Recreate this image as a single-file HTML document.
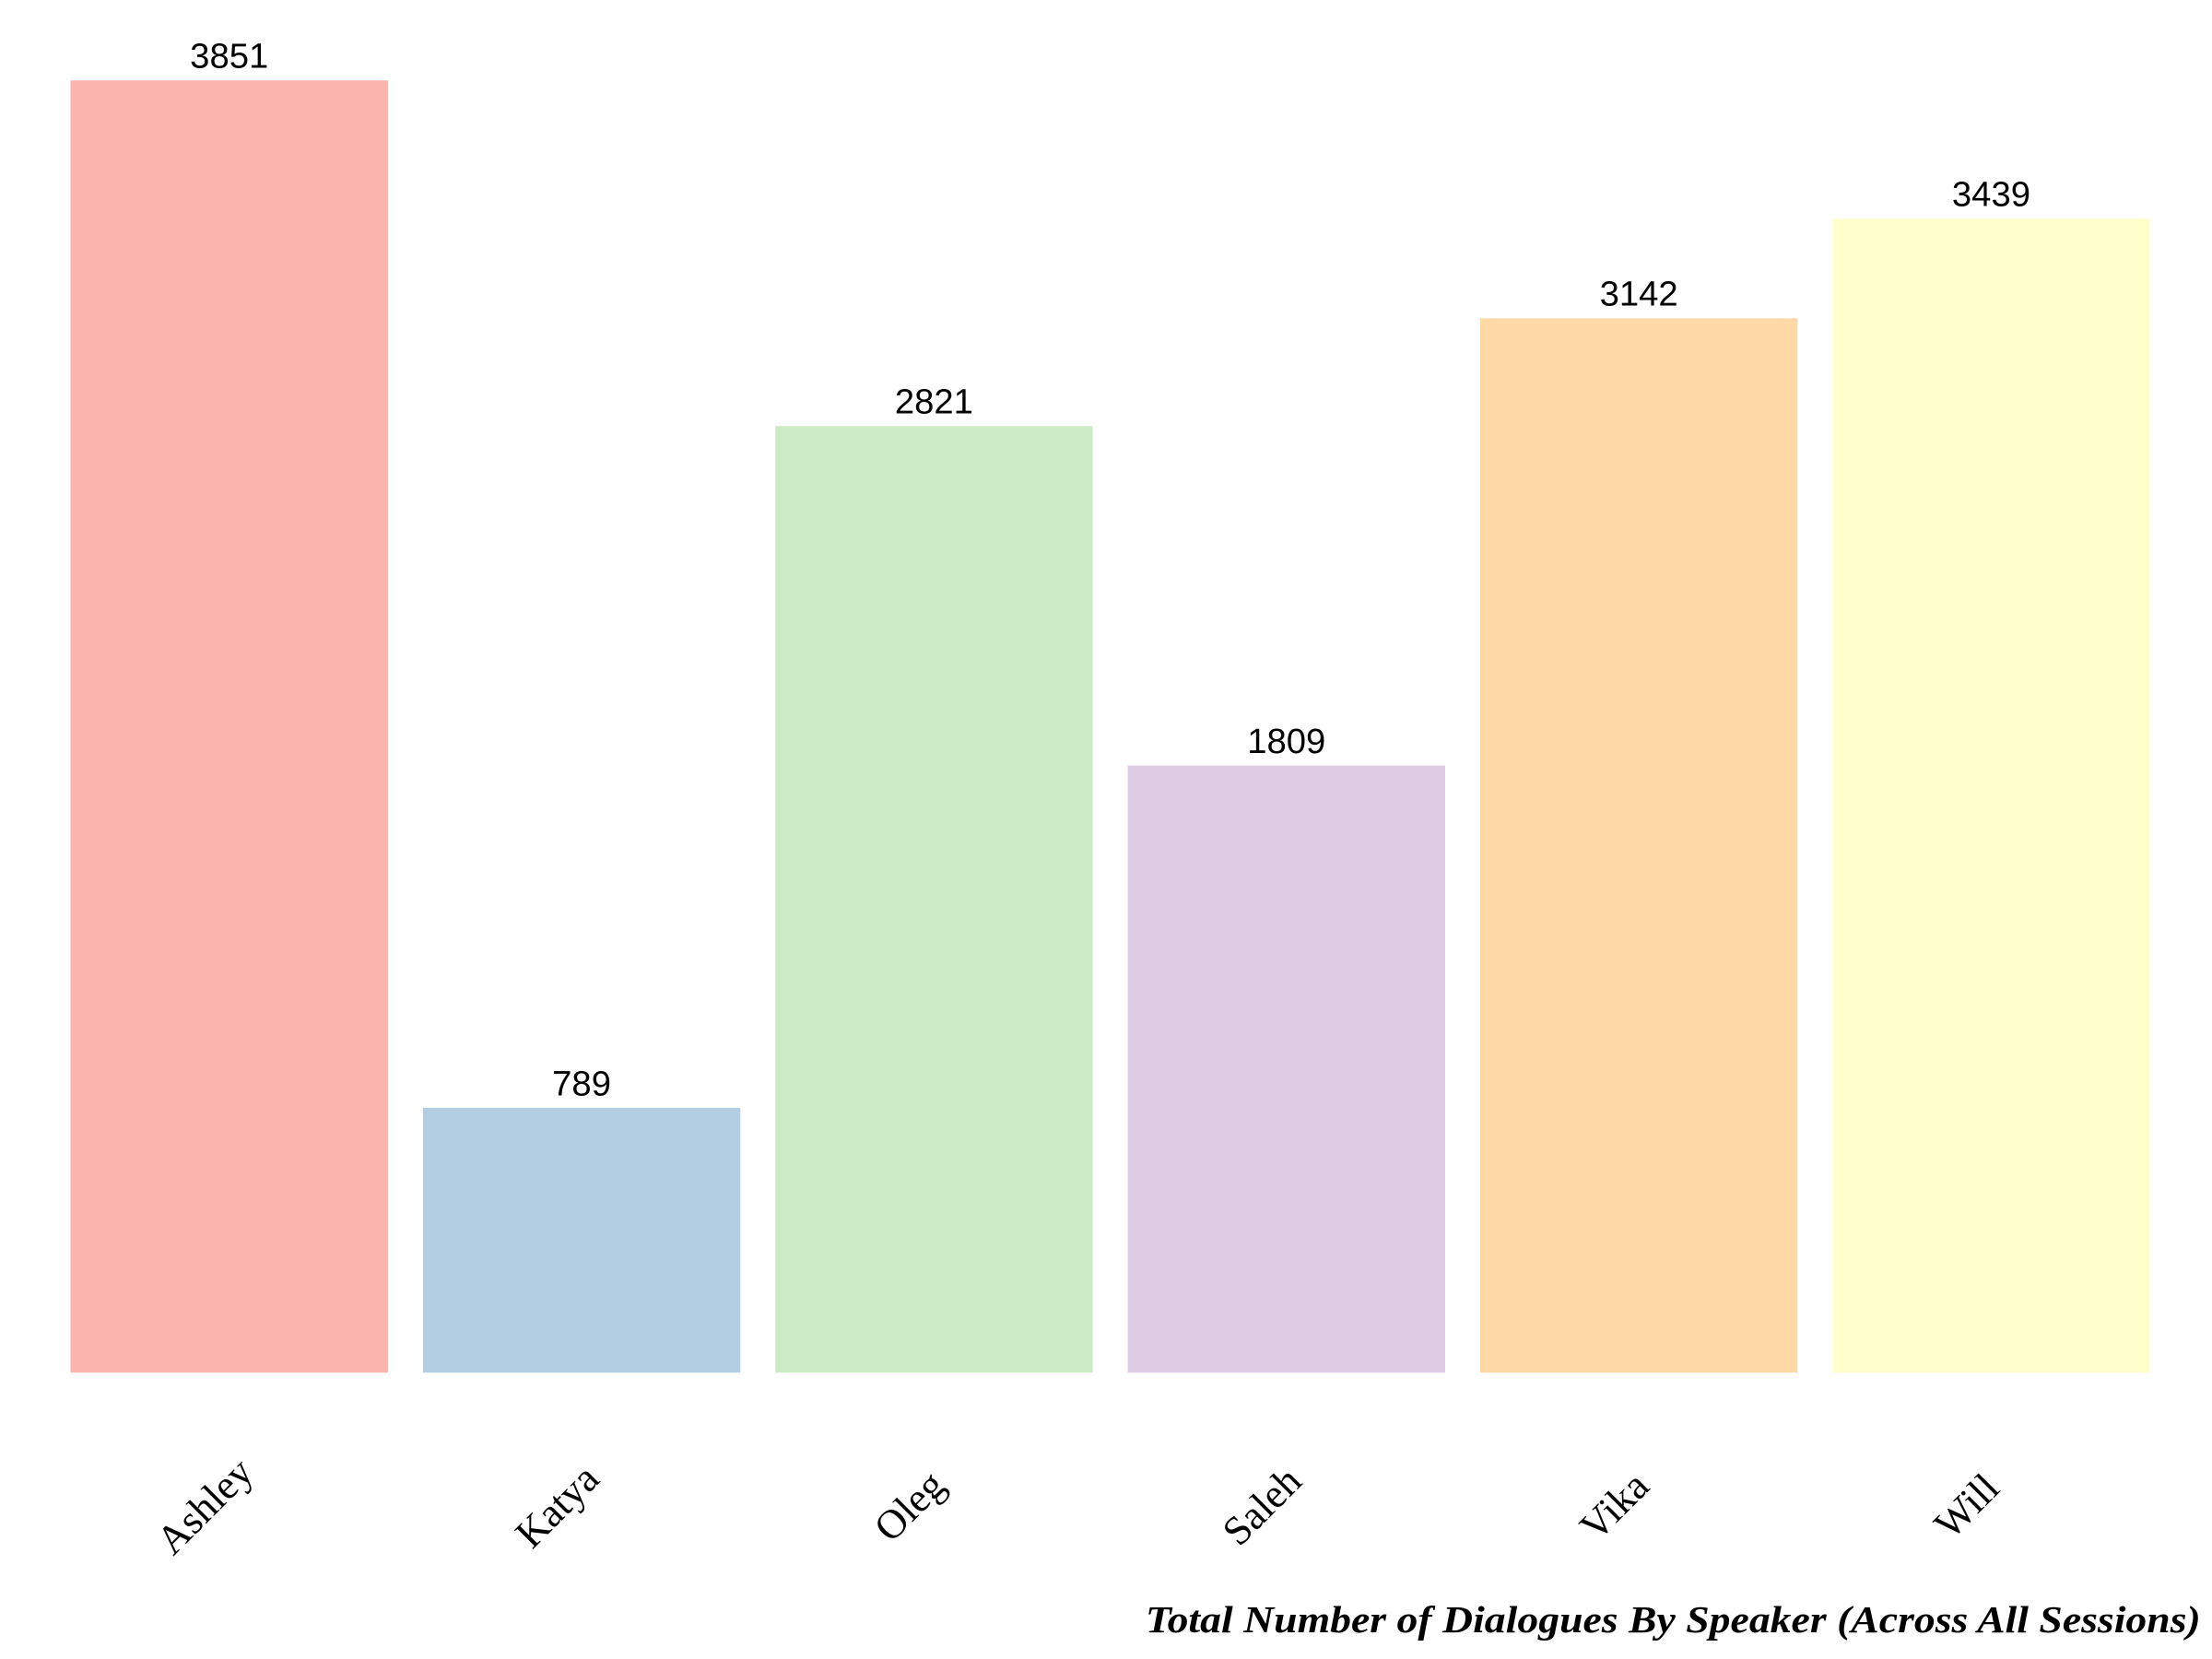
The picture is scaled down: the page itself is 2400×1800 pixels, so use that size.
<!DOCTYPE html>
<html><head><meta charset="utf-8"><style>
html,body{margin:0;padding:0;background:#fff;}
svg{display:block;}
</style></head><body>
<svg id="chart" width="2400" height="1800" viewBox="0 0 1568 1176" preserveAspectRatio="none" xmlns="http://www.w3.org/2000/svg">
<rect width="1568" height="1176" fill="#fff"/>
<g id="bars"></g>
<text x="1560" y="1157" text-anchor="end" font-family="Liberation Serif, serif" font-style="italic" font-weight="bold" font-size="27" textLength="748" lengthAdjust="spacingAndGlyphs">Total Number of Dialogues By Speaker (Across All Sessions)</text>
</svg>
<script>
const categories = ["Ashley","Katya","Oleg","Saleh","Vika","Will"];
const values = [3851,789,2821,1809,3142,3439];
const colors = ["#fbb4ae","#b3cde3","#ccebc5","#decbe4","#fed9a6","#ffffcc"];

const ns="http://www.w3.org/2000/svg";
const g=document.getElementById('bars');
const x0=50, step=249.8, bw=225, base=973, yTop=57, maxV=3851;
function xPos(i){return x0+i*step;}
function yPos(v){return base-(v/maxV)*(base-yTop);}
categories.forEach((c,i)=>{
  const r=document.createElementNS(ns,'rect');
  
  
  r.setAttribute('x',xPos(i));
  r.setAttribute('y',yPos(values[i]));
  r.setAttribute('width',bw);
  r.setAttribute('height',base-yPos(values[i]));
  r.setAttribute('fill',colors[i]);
  g.appendChild(r);
  const cx=xPos(i)+bw/2;
  const t=document.createElementNS(ns,'text');
  
  
  t.setAttribute('x',cx);
  t.setAttribute('y',yPos(values[i])-9);
  t.setAttribute('text-anchor','middle');
  t.setAttribute('font-family','Liberation Sans, sans-serif');
  t.setAttribute('font-size','25');
  t.textContent=values[i];
  g.appendChild(t);
  const l=document.createElementNS(ns,'text');
  
  
  const lx=cx-17, ly=1077;
  l.setAttribute('x',lx);
  l.setAttribute('y',ly);
  l.setAttribute('text-anchor','middle');
  l.setAttribute('font-family','Liberation Serif, serif');
  l.setAttribute('font-size','29');
  l.setAttribute('transform','rotate(-45 '+lx+' '+(ly-9)+')');
  l.textContent=c;
  g.appendChild(l);
});
</script>
</body></html>
